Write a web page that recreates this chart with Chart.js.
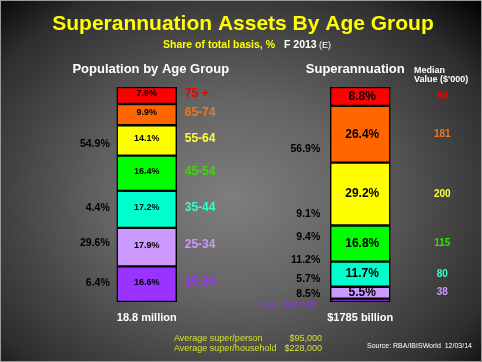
<!DOCTYPE html>
<html>
<head>
<meta charset="utf-8">
<script src="https://cdn.jsdelivr.net/npm/chart.js@4.4.1/dist/chart.umd.min.js"></script>
<style>
  body { margin: 0; }
  #wrap {
    position: relative;
    width: 482px;
    height: 362px;
    background: radial-gradient(ellipse farthest-corner at 48% 55%, #7e7e7e 0%, #646464 35%, #2e2e2e 80%, #000 100%);
  }
</style>
</head>
<body>
<div id="wrap"><canvas id="myChart" width="482" height="362"></canvas></div>
<script>
// data
const ageGroups = ['15-24', '25-34', '35-44', '45-54', '55-64', '65-74', '75 +'];
const populationShare = [16.6, 17.9, 17.2, 16.4, 14.1, 9.9, 7.9];
const superShare = [1.6, 5.5, 11.7, 16.8, 29.2, 26.4, 8.8];
const medianValue = [11, 38, 80, 115, 200, 181, 60];   // $'000
const barNames = ['Population by Age Group', 'Superannuation'];
const barTotals = ['18.8 million', '$1785 billion'];
const popNotes = ['54.9%', '4.4%', '29.6%', '6.4%'];
const superNotes = ['56.9%', '9.1%', '9.4%', '11.2%', '5.7%', '8.5%'];

const fills = ['#9933ff', '#cc99ff', '#00ffcc', '#00ff00', '#ffff00', '#ff6600', '#ff0000'];
const textCols = ['#9933ff', '#cc99ff', '#33ffcc', '#33dd00', '#ffff33', '#ee7722', '#ee0000'];

const FONT = '"Liberation Sans", Arial, sans-serif';

function drawText(ctx, txt, x, y, font, color, align, base) {
  ctx.font = font + ' ' + FONT;
  ctx.fillStyle = color;
  ctx.textAlign = align || 'center';
  ctx.textBaseline = base || 'middle';
  ctx.fillText(txt, x, y);
}

const labelPlugin = {
  id: 'slideText',
  afterDatasetsDraw(chart) {
    const ctx = chart.ctx;
    const yScale = chart.scales.y;
    ctx.save();

    chart.data.datasets.forEach((ds, i) => {
      const meta = chart.getDatasetMeta(i);
      const p = meta.data[0].getProps(['x', 'y', 'base', 'width'], true);
      const s = meta.data[1].getProps(['x', 'y', 'base', 'width'], true);
      const pc = (p.y + p.base) / 2;
      const sc = (s.y + s.base) / 2;

      // population bar
      drawText(ctx, populationShare[i].toFixed(1) + '%', p.x, pc - 2, 'bold 9px', '#000');
      drawText(ctx, ageGroups[i], p.x + p.width / 2 + 8, pc - 2, 'bold 12px', textCols[i], 'left');

      // super bar
      if (superShare[i] >= 3) {
        drawText(ctx, superShare[i].toFixed(1) + '%', s.x + 2, sc, 'bold 12px', '#000');
        drawText(ctx, String(medianValue[i]), s.x + s.width / 2 + 52, sc, 'bold 10px', textCols[i]);
      } else {
        drawText(ctx, superShare[i].toFixed(1) + '%  ($' + medianValue[i] + ',000)',
          s.x - s.width / 2 - 14, s.base + 3, '8px', textCols[i], 'right');
      }
    });

    // stray percentages on the left of each bar
    const p0 = chart.getDatasetMeta(0).data[0];
    const s0 = chart.getDatasetMeta(0).data[1];
    const popLevels = [73.5, 43.7, 27.4, 8.8];
    const supLevels = [71.3, 40.9, 30.2, 19.5, 10.7, 3.7];
    popNotes.forEach((t, k) => drawText(ctx, t, p0.x - 37, yScale.getPixelForValue(popLevels[k]), 'bold 10.5px', '#000', 'right'));
    superNotes.forEach((t, k) => drawText(ctx, t, s0.x - 40, yScale.getPixelForValue(supLevels[k]), 'bold 10.5px', '#000', 'right'));

    // headings and totals
    drawText(ctx, barNames[0], p0.x + 4, 73, 'bold 13px', '#fff', 'center', 'alphabetic');
    drawText(ctx, barNames[1], s0.x - 5, 73, 'bold 13px', '#fff', 'center', 'alphabetic');
    drawText(ctx, 'Median', 414, 72.5, 'bold 9px', '#fff', 'left', 'alphabetic');
    drawText(ctx, "Value ($'000)", 414, 82, 'bold 9px', '#fff', 'left', 'alphabetic');
    drawText(ctx, barTotals[0], p0.x, 321, 'bold 11px', '#fff', 'center', 'alphabetic');
    drawText(ctx, barTotals[1], s0.x, 321, 'bold 11px', '#fff', 'center', 'alphabetic');

    // title block
    drawText(ctx, 'Superannuation Assets By Age Group', 243, 29.5, 'bold 21px', '#ffff00', 'center', 'alphabetic');
    drawText(ctx, 'Share of total basis, %', 163, 48, 'bold 10.5px', '#ffff00', 'left', 'alphabetic');
    drawText(ctx, 'F 2013', 284, 48, 'bold 10.5px', '#fff', 'left', 'alphabetic');
    drawText(ctx, '(E)', 319, 48, '9px', '#fff', 'left', 'alphabetic');

    // footer
    const yel = '#d4e030';
    drawText(ctx, 'Average super/person', 174, 340.5, '9px', yel, 'left', 'alphabetic');
    drawText(ctx, '$95,000', 322, 340.5, '9px', yel, 'right', 'alphabetic');
    drawText(ctx, 'Average super/household', 174, 350.5, '9px', yel, 'left', 'alphabetic');
    drawText(ctx, '$228,000', 322, 350.5, '9px', yel, 'right', 'alphabetic');
    drawText(ctx, 'Source: RBA/IBISWorld  12/03/14', 367, 348, '7px', '#fff', 'left', 'alphabetic');

    ctx.strokeStyle = '#9a9a9a';
    ctx.lineWidth = 1;
    ctx.strokeRect(0.5, 0.5, chart.width - 1, chart.height - 1);
    ctx.restore();
  }
};

const datasets = ageGroups.map((g, i) => ({
  label: g,
  data: [populationShare[i], superShare[i]],
  backgroundColor: fills[i],
  borderColor: '#000',
  borderWidth: 1.5,
  borderSkipped: false,
  barThickness: 60
}));

new Chart(document.getElementById('myChart'), {
  type: 'bar',
  data: { labels: barNames, datasets: datasets },
  options: {
    responsive: false,
    animation: false,
    layout: { padding: { left: 40, right: 15, top: 87, bottom: 60 } },
    plugins: { legend: { display: false }, tooltip: { enabled: false }, title: { display: false } },
    scales: {
      x: { stacked: true, display: false },
      y: { stacked: true, display: false, min: 0, max: 100 }
    }
  },
  plugins: [labelPlugin]
});
</script>
</body>
</html>
